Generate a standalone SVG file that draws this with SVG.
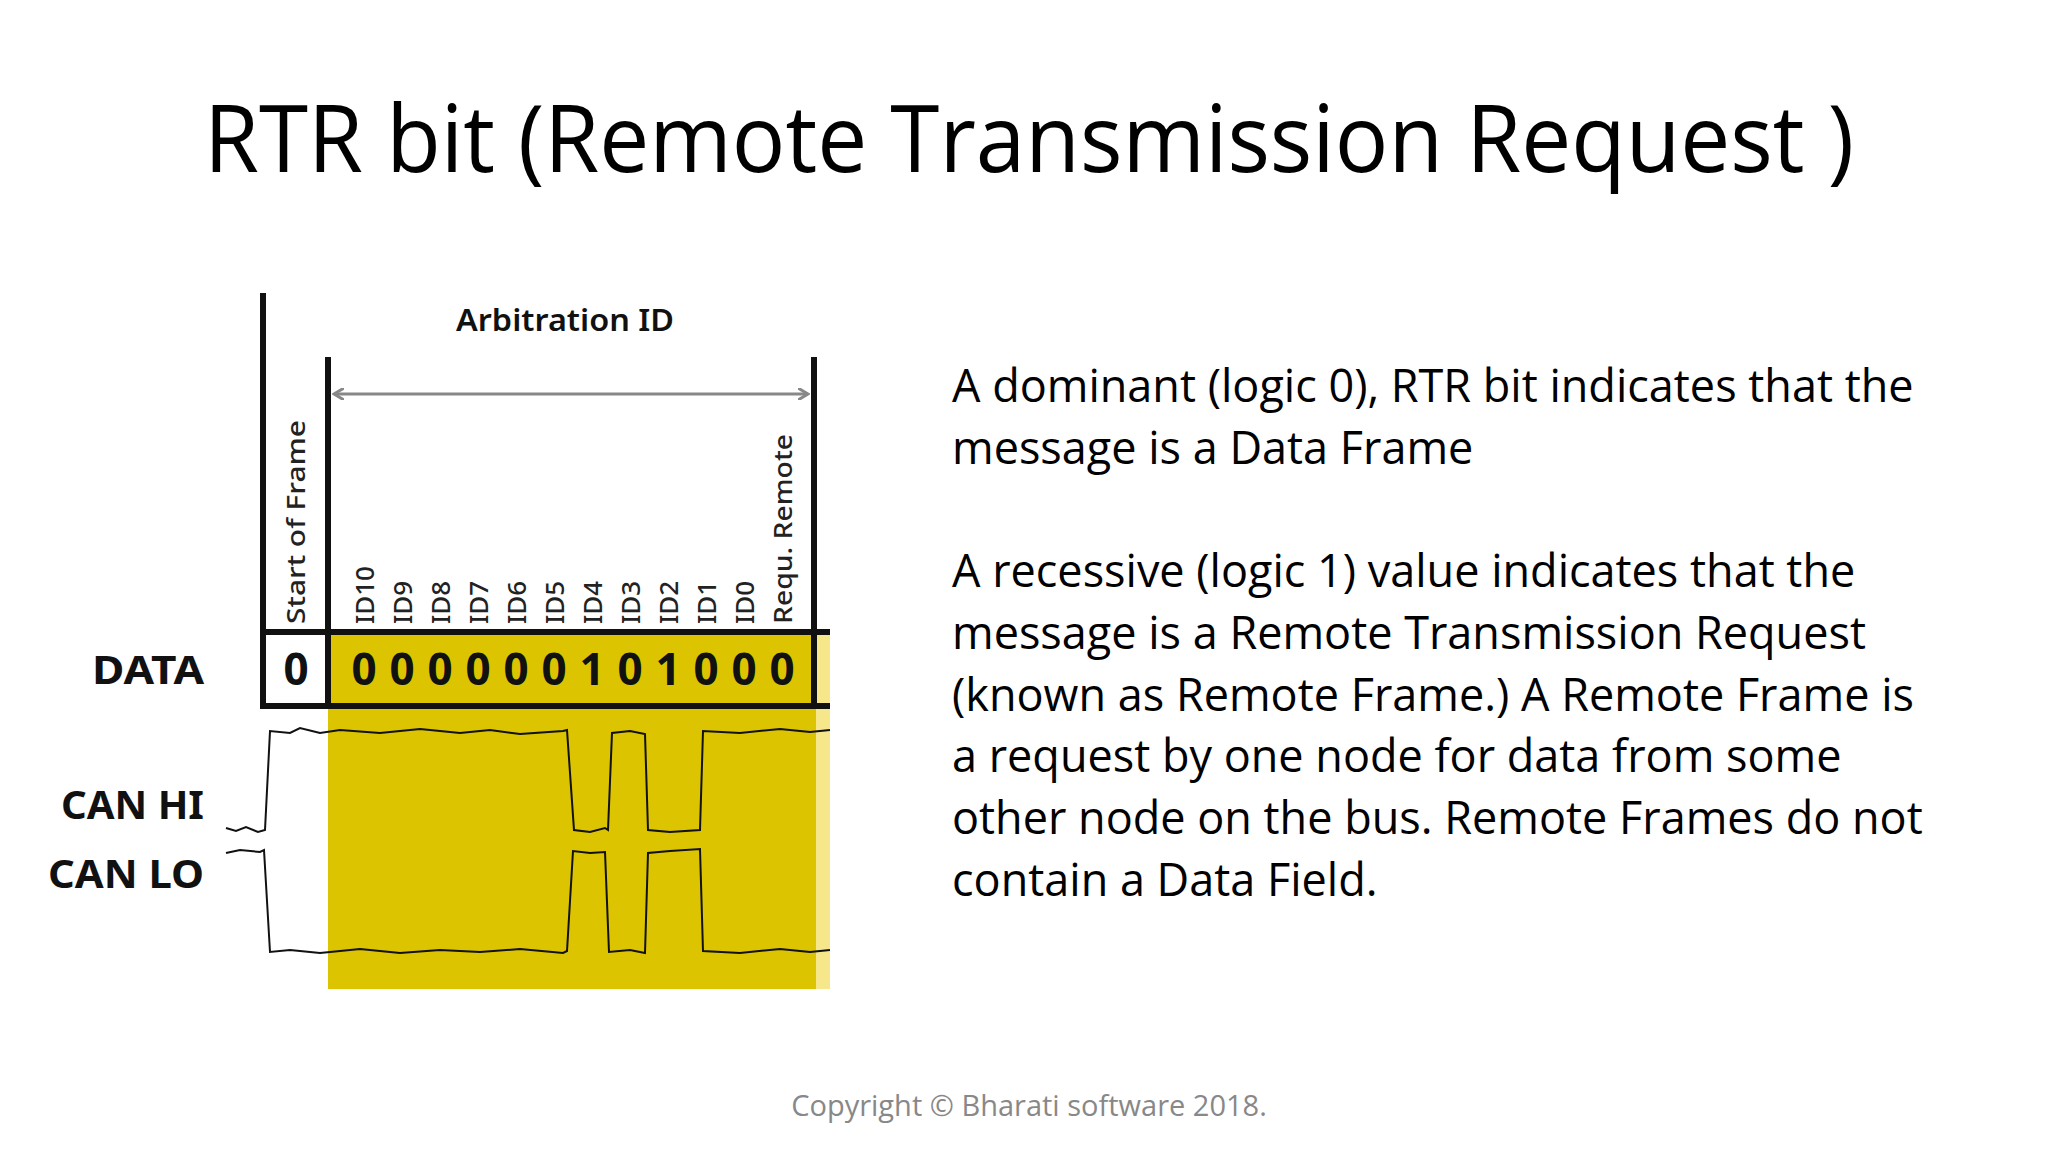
<svg xmlns="http://www.w3.org/2000/svg" width="2048" height="1152" viewBox="0 0 2048 1152">
<style>
.t{font-family:"Open Sans","Liberation Sans",sans-serif;fill:#000}
.d{font-family:"Noto Sans","Liberation Sans",sans-serif;fill:#111}
.rot{font-size:26px;font-family:"Noto Sans","Liberation Sans",sans-serif;fill:#222;font-weight:500}
.dig{font-size:44px;font-weight:bold;font-family:"Noto Sans","Liberation Sans",sans-serif;fill:#111;text-anchor:middle}
.lbl{font-size:40px;font-weight:bold;font-family:"Noto Sans","Liberation Sans",sans-serif;fill:#111;text-anchor:end}
.wave{fill:none;stroke:#111;stroke-width:2}
</style>
<defs>
<marker id="ah" markerWidth="12" markerHeight="12" refX="10" refY="6" orient="auto-start-reverse" markerUnits="userSpaceOnUse">
<path d="M0,0 L10,6 L0,12" fill="none" stroke="#888" stroke-width="3"/>
</marker>
</defs>
<rect width="2048" height="1152" fill="#fff"/>
<text class="t" x="1029" y="172" font-size="94" text-anchor="middle" textLength="1650" lengthAdjust="spacingAndGlyphs">RTR bit (Remote Transmission Request )</text>

<g id="diagram">
<rect x="328" y="706" width="502" height="283" fill="#DCC500"/>
<rect x="816" y="632" width="14" height="357" fill="#F6E88A"/>
<rect x="328" y="632" width="488" height="74" fill="#DCC500"/>
<line x1="263" y1="293" x2="263" y2="709" stroke="#111" stroke-width="6"/>
<line x1="328" y1="357" x2="328" y2="709" stroke="#111" stroke-width="6"/>
<line x1="814" y1="357" x2="814" y2="709" stroke="#111" stroke-width="6"/>
<line x1="260" y1="632" x2="830" y2="632" stroke="#111" stroke-width="6"/>
<line x1="260" y1="706" x2="830" y2="706" stroke="#111" stroke-width="6"/>
<line x1="334" y1="394" x2="808" y2="394" stroke="#888" stroke-width="3" marker-start="url(#ah)" marker-end="url(#ah)"/>
<text class="d" x="565" y="331" font-size="30" text-anchor="middle" font-weight="600" textLength="218" lengthAdjust="spacingAndGlyphs">Arbitration ID</text>
<text class="lbl" x="204" y="684" textLength="112" lengthAdjust="spacingAndGlyphs">DATA</text>
<text class="lbl" x="204" y="819" textLength="143" lengthAdjust="spacingAndGlyphs">CAN HI</text>
<text class="lbl" x="204" y="888" textLength="156" lengthAdjust="spacingAndGlyphs">CAN LO</text>
<text class="dig" x="296" y="685">0</text>
<g class="dig">
<text x="364" y="685">0</text><text x="402" y="685">0</text><text x="440" y="685">0</text><text x="478" y="685">0</text><text x="516" y="685">0</text><text x="554" y="685">0</text><text x="592" y="685">1</text><text x="630" y="685">0</text><text x="668" y="685">1</text><text x="706" y="685">0</text><text x="744" y="685">0</text><text x="782" y="685">0</text>
</g>
<g class="rot">
<text transform="translate(305,624) rotate(-90)" textLength="204" lengthAdjust="spacingAndGlyphs">Start of Frame</text>
<text transform="translate(374,624) rotate(-90)">ID10</text>
<text transform="translate(412,624) rotate(-90)">ID9</text>
<text transform="translate(450,624) rotate(-90)">ID8</text>
<text transform="translate(488,624) rotate(-90)">ID7</text>
<text transform="translate(526,624) rotate(-90)">ID6</text>
<text transform="translate(564,624) rotate(-90)">ID5</text>
<text transform="translate(602,624) rotate(-90)">ID4</text>
<text transform="translate(640,624) rotate(-90)">ID3</text>
<text transform="translate(678,624) rotate(-90)">ID2</text>
<text transform="translate(716,624) rotate(-90)">ID1</text>
<text transform="translate(754,624) rotate(-90)">ID0</text>
<text transform="translate(792,624) rotate(-90)" textLength="190" lengthAdjust="spacingAndGlyphs">Requ. Remote</text>
</g>
<path class="wave" d="M226,828 L236,831 L246,827 L258,832 L265,830 L270,731 L290,733 L300,728 L320,733 L340,730 L380,733 L420,729 L460,733 L490,730 L520,734 L563,731 L567,730 L574,830 L590,832 L605,828 L608,830 L612,733 L630,731 L645,734 L648,830 L670,832 L700,830 L703,731 L740,733 L780,729 L810,732 L830,730"/>
<path class="wave" d="M226,853 L240,850 L260,852 L264,850 L270,952 L290,950 L320,953 L360,949 L400,953 L440,950 L480,952 L520,949 L563,953 L567,951 L573,851 L590,853 L605,852 L609,952 L630,950 L645,953 L648,853 L670,851 L700,849 L703,951 L740,953 L780,949 L810,952 L830,950"/>
</g>

<g id="text" class="t" font-size="45">
<text x="952" y="402">A dominant (logic 0), RTR bit indicates that the</text>
<text x="952" y="464">message is a Data Frame</text>
<text x="952" y="587">A recessive (logic 1) value indicates that the</text>
<text x="952" y="649">message is a Remote Transmission Request</text>
<text x="952" y="711">(known as Remote Frame.) A Remote Frame is</text>
<text x="952" y="772">a request by one node for data from some</text>
<text x="952" y="834">other node on the bus. Remote Frames do not</text>
<text x="952" y="896">contain a Data Field.</text>
</g>
<text class="t" x="1029" y="1116" font-size="29" style="fill:#888" text-anchor="middle">Copyright © Bharati software 2018.</text>
</svg>
